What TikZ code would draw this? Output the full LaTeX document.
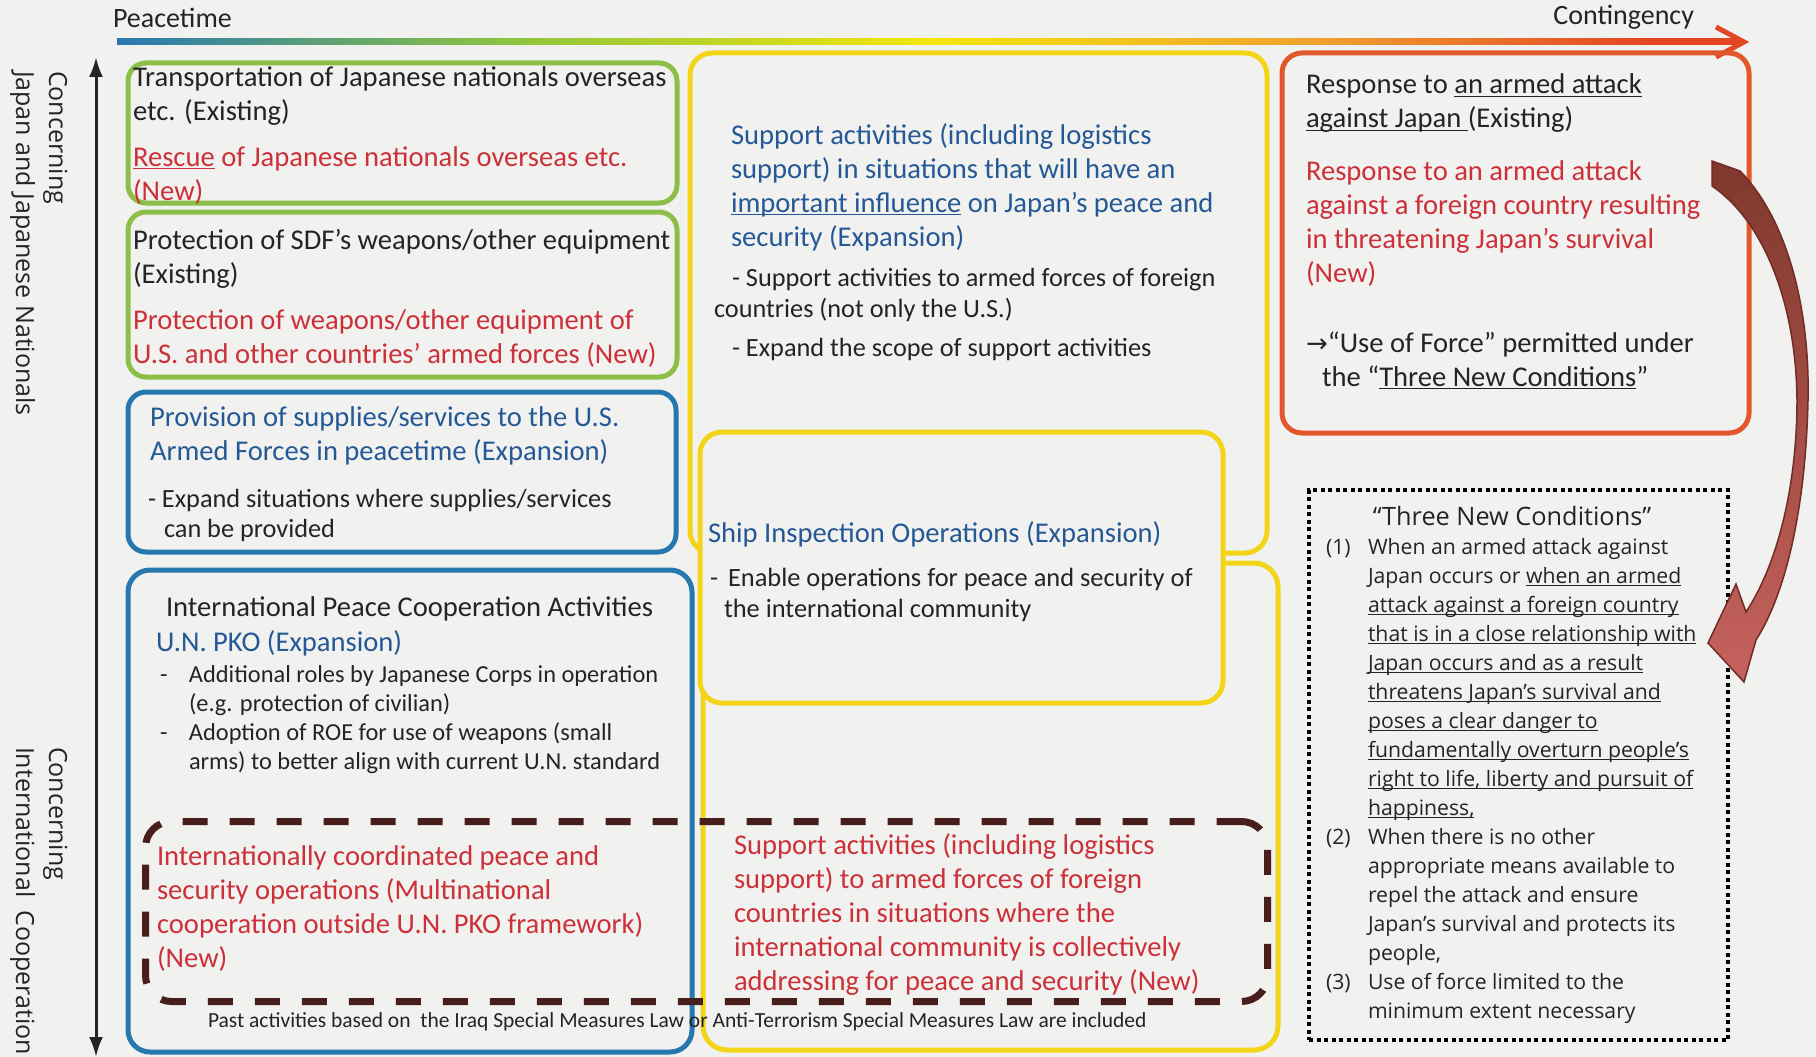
\documentclass[tikz,border=0pt]{standalone}
\usepackage{fontspec}
\setmainfont{Carlito}
\newfontfamily\osans{Open Sans}
\newfontfamily\dvs{DejaVu Sans}
\usetikzlibrary{arrows.meta}
\newcommand{\myul}[1]{\setbox0\hbox{#1}\rlap{\rule[-3pt]{\wd0}{1.3pt}}\box0\relax}
\definecolor{bgc}{RGB}{241,241,239}
\definecolor{tblack}{RGB}{36,36,36}
\definecolor{cdred}{RGB}{204,48,56}
\definecolor{cdblue}{RGB}{36,88,150}
\definecolor{cgreen}{RGB}{140,190,72}
\definecolor{cblue}{RGB}{40,120,176}
\definecolor{cyellow}{RGB}{242,212,24}
\definecolor{credb}{RGB}{226,88,44}
\definecolor{cdash}{RGB}{72,30,28}
\definecolor{gA}{RGB}{40,120,180}
\definecolor{gB}{RGB}{140,196,64}
\definecolor{gC}{RGB}{244,230,10}
\definecolor{gD}{RGB}{240,160,48}
\definecolor{gE}{RGB}{228,70,36}
\definecolor{arrtop}{RGB}{128,56,44}
\definecolor{arrbot}{RGB}{198,98,94}
\definecolor{arrline}{RGB}{112,44,38}
\pgfdeclarehorizontalshading{timeline}{100bp}{color(0bp)=(gA); color(25bp)=(gA); color(37bp)=(gB); color(50bp)=(gC); color(62bp)=(gD); color(72bp)=(gE); color(100bp)=(gE)}
\newcommand{\tb}[1]{\begin{tabular}[t]{@{}l@{}}#1\end{tabular}}
\newcommand{\dsh}{\makebox[29pt][l]{-}}
\tikzset{
  x=1pt, y=-1pt,
  panel/.style={draw, line width=5pt, rounded corners=18pt, anchor=north west, inner sep=0pt, outer sep=0pt},
  gpanel/.style={panel, draw=cgreen},
  bpanel/.style={panel, draw=cblue},
  ypanel/.style={panel, draw=cyellow},
  rpanel/.style={panel, draw=credb},
  txt/.style={anchor=base west, inner sep=0pt, outer sep=0pt, text=tblack},
  tL/.style={txt, font=\fontsize{28.6}{34}\selectfont},
  tK/.style={txt, font=\fontsize{26.4}{31}\selectfont},
  tM/.style={txt, font=\fontsize{26.3}{30}\selectfont},
  tS/.style={txt, font=\fontsize{24.4}{29}\selectfont},
  tred/.style={text=cdred},
  tblue/.style={text=cdblue},
  side/.style={txt, rotate=-90, font=\osans\fontsize{25}{33}\selectfont},
}
\begin{document}
\begin{tikzpicture}
\useasboundingbox (0,0) rectangle (1816,1057);
\fill[bgc] (0,0) rectangle (1816,1057);

% timeline
\coordinate (tl0) at (117,42);
\coordinate (tl1) at (1744,42);
\shade[shading=timeline] (117,39) rectangle (1742,45);
\draw[gE, line width=5pt, line join=miter] (1716,27) -- (tl1) -- (1716,57);
\node[txt, font=\fontsize{28}{34}\selectfont] (peace) at (113,28) {Peacetime};
\node[txt, font=\fontsize{28}{34}\selectfont, anchor=base east] (cont) at (1694,25) {Contingency};

% vertical axis
\coordinate (ax0) at (96,57);
\coordinate (ax1) at (96,1057);
\draw[tblack, line width=3pt, {Latex[length=20pt,width=14pt]}-{Latex[length=20pt,width=14pt]}] (ax0) -- (ax1);
\node[side] (lab1) at (49,71) {\tb{Concerning\\Japan and Japanese Nationals}};
\node[side] (lab2) at (49,747) {\tb{Concerning\\International\ \ Cooperation}};

% left column
\node[gpanel, minimum width=549pt, minimum height=140pt] (b1) at (128,63) {};
\node[tL] (t1a) at (133,86) {\tb{Transportation of Japanese nationals overseas\\etc. (Existing)}};
\node[tL, tred] (t1b) at (133,166) {\tb{\myul{Rescue} of Japanese nationals overseas etc.\\(New)}};

\node[gpanel, minimum width=549pt, minimum height=165pt] (b2) at (128,212) {};
\node[tL] (t2a) at (133,249) {\tb{Protection of SDF’s weapons/other equipment\\(Existing)}};
\node[tL, tred] (t2b) at (133,329) {\tb{Protection of weapons/other equipment of\\U.S. and other countries’ armed forces (New)}};

\node[bpanel, minimum width=548pt, minimum height=160pt] (b3) at (128,392) {};
\node[tL, tblue] (t3a) at (150,426) {\tb{Provision of supplies/services to the U.S.\\Armed Forces in peacetime (Expansion)}};
\node[tM] (t3b) at (148,507) {\tb{- Expand situations where supplies/services\\\hspace*{16pt}can be provided}};

\node[bpanel, rounded corners=22pt, minimum width=564pt, minimum height=482pt] (b4) at (128,570) {};
\node[tL] (t4a) at (166,616) {International Peace Cooperation Activities};
\node[tL, tblue] (t4b) at (156,651) {U.N. PKO (Expansion)};
\node[tS] (t4c) at (160,682) {\begin{tabular}[t]{@{}l@{}l@{}}\dsh & Additional roles by Japanese Corps in operation\\ & (e.g. protection of civilian)\\ \dsh & Adoption of ROE for use of weapons (small\\ & arms) to better align with current U.N. standard\end{tabular}};

% middle column
\node[ypanel, rounded corners=22pt, minimum width=577pt, minimum height=500pt] (ya) at (690,53) {};
\node[ypanel, rounded corners=24pt, minimum width=575pt, minimum height=487pt] (yc) at (703,563) {};
\node[ypanel, fill=bgc, rounded corners=22pt, minimum width=523pt, minimum height=271pt] (yb) at (700,432) {};

\node[tL, tblue] (t7a) at (731,144) {\tb{Support activities (including logistics\\support) in situations that will have an\\\myul{important influence} on Japan’s peace and\\security (Expansion)}};
\node[tM] (t7b) at (732,286) {- Support activities to armed forces of foreign};
\node[tM] (t7c) at (714,317) {countries (not only the U.S.)};
\node[tM] (t7d) at (732,356) {- Expand the scope of support activities};

\node[tL, tblue] (t8a) at (708,542) {Ship Inspection Operations (Expansion)};
\node[tK] (t8b) at (710,586) {\tb{-\hspace{10pt}Enable operations for peace and security of\\\hspace*{14pt}the international community}};

% dashed new box
\node[draw=cdash, line width=7pt, dash pattern=on 25pt off 22pt, rounded corners=26pt, anchor=north west, inner sep=0pt, minimum width=1122pt, minimum height=180pt] (nd) at (142,818) {};
\node[tL, tred] (t5a) at (157,865) {\tb{Internationally coordinated peace and\\security operations (Multinational\\cooperation outside U.N. PKO framework)\\(New)}};
\node[tL, tred] (t5b) at (734,854) {\tb{Support activities (including logistics\\support) to armed forces of foreign\\countries in situations where the\\international community is collectively\\addressing for peace and security (New)}};
\node[txt, font=\fontsize{21.5}{25}\selectfont] (t6) at (208,1027) {Past activities based on \ the Iraq Special Measures Law or Anti-Terrorism Special Measures Law are included};

% right column
\node[rpanel, rounded corners=20pt, minimum width=467pt, minimum height=380pt] (rb) at (1282,53) {};
\node[tL] (t9a) at (1306,94) {\tb{Response to \myul{an armed attack}\\\myul{against Japan\ }(Existing)}};
\node[tL, tred] (t9b) at (1306,180) {\tb{Response to an armed attack\\against a foreign country resulting\\in threatening Japan’s survival\\(New)}};
\node[tL] (t9c) at (1306,352) {\tb{{\dvs\fontsize{26}{34}\selectfont →}“Use of Force” permitted under\\\hspace*{16pt}the “\myul{Three New Conditions}”}};

\node[draw=black, line width=4pt, dash pattern=on 4pt off 3.5pt, anchor=north west, inner sep=0pt, minimum width=419pt, minimum height=550pt] (cond) at (1307,488) {};
\node[txt, anchor=base, font=\osans\fontsize{25.3}{29}\selectfont] (t10) at (1512,525) {“Three New Conditions”};
\node[txt, font=\osans\fontsize{21.2}{29}\selectfont] (t11) at (1326,554) {\begin{tabular}[t]{@{}l@{}l@{}}\makebox[42pt][l]{(1)} & When an armed attack against\\
 & Japan occurs or \myul{when an armed}\\
 & \myul{attack against a foreign country}\\
 & \myul{that is in a close relationship with}\\
 & \myul{Japan occurs and as a result}\\
 & \myul{threatens Japan’s survival and}\\
 & \myul{poses a clear danger to}\\
 & \myul{fundamentally overturn people’s}\\
 & \myul{right to life, liberty and pursuit of}\\
 & \myul{happiness,}\\
 \makebox[42pt][l]{(2)} & When there is no other\\
 & appropriate means available to\\
 & repel the attack and ensure\\
 & Japan’s survival and protects its\\
 & people,\\
 \makebox[42pt][l]{(3)} & Use of force limited to the\\
 & minimum extent necessary\end{tabular}};

% curved arrow from the red panel to the conditions
\coordinate (arrtail) at (1712,161);
\coordinate (arrtip) at (1708,643);
\shade[top color=arrtop, bottom color=arrbot, draw=arrline, line width=1.5pt, line join=miter]
  (arrtail) -- (1740,171)
  .. controls (1788,220) and (1810,310) .. (1808,400)
  .. controls (1806,500) and (1788,590) .. (1756,640)
  -- (1744,682) -- (arrtip) -- (1736,584) -- (1746,612)
  .. controls (1780,560) and (1797,480) .. (1797,400)
  .. controls (1796,300) and (1762,220) .. (1712,186) -- cycle;
\end{tikzpicture}
\end{document}
